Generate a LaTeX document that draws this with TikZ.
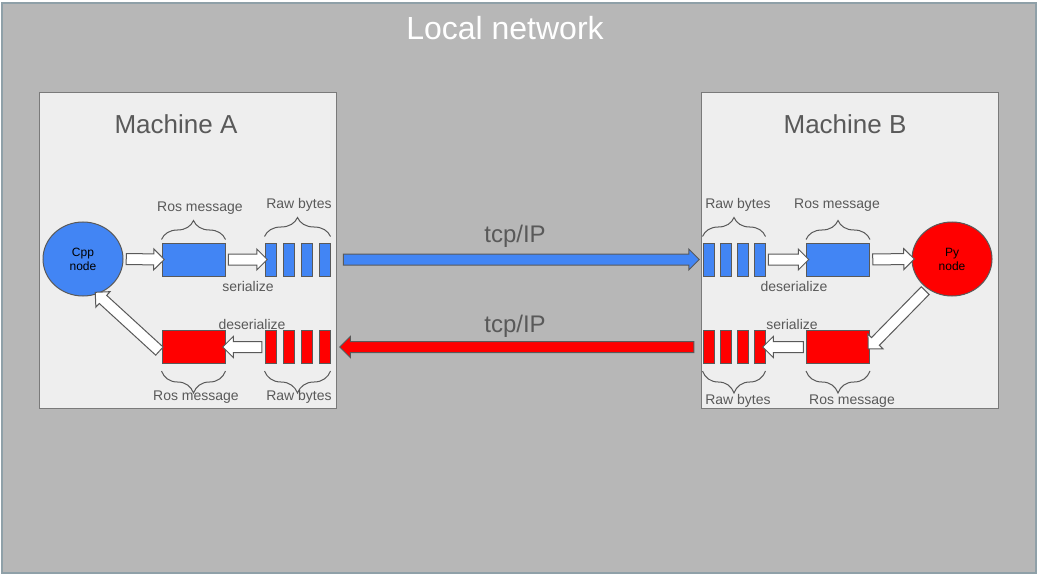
\documentclass[tikz,border=0pt]{standalone}
\usepackage{fontspec}
\setmainfont{Liberation Sans}
\usetikzlibrary{positioning,calc,shapes.arrows,shapes.geometric,decorations.pathreplacing}
\definecolor{netgray}{HTML}{B7B7B7}
\definecolor{boxgray}{HTML}{EEEEEE}
\definecolor{linegray}{HTML}{595959}
\definecolor{framegray}{HTML}{8FA0A8}
\definecolor{rosblue}{HTML}{4285F4}
\definecolor{rosred}{HTML}{FF0000}
\tikzset{
	machine/.style={draw=linegray!80, fill=boxgray, line width=1pt, minimum width=297pt, minimum height=315pt, inner sep=0pt},
	msg/.style={draw=linegray, line width=1pt, fill=#1, minimum width=63pt, minimum height=33pt, inner sep=0pt},
	byte/.style={draw=linegray, line width=1pt, fill=#1, minimum width=11pt, minimum height=33pt, inner sep=0pt},
	rosnode/.style={ellipse, draw=linegray, line width=1pt, fill=#1, minimum width=80pt, minimum height=74pt, inner sep=0pt, align=center, font=\fontsize{12}{14}\selectfont},
	lbl/.style={text=linegray, font=\fontsize{14}{16}\selectfont, inner sep=0pt},
	big/.style={text=linegray, font=\fontsize{26}{30}\selectfont, inner sep=0pt},
	fat/.style={single arrow, draw=linegray, line width=1pt, fill=#1, inner xsep=0pt, inner ysep=5pt, single arrow head extend=5pt, single arrow head indent=0pt},
	brace/.style={decorate, decoration={brace, amplitude=#1}, draw=linegray, line width=1pt}
}
% fat arrow between two points: name, from, to, fill
\newcommand{\fatarrow}[4]{%
	\path let \p1=#2, \p2=#3, \n1={atan2(\y2-\y1,\x2-\x1)}, \n2={veclen(\x2-\x1,\y2-\y1)} in
		node[fat=#4, minimum height=\n2, rotate=\n1] (#1) at ($(\p1)!0.5!(\p2)$) {};}

\begin{document}
\begin{tikzpicture}[x=1pt, y=-1pt]
	\useasboundingbox (0,0) rectangle (1040,577);
	\draw[framegray, fill=netgray, line width=1.5pt] (2,3) rectangle (1036,573);
	\node[text=white, font=\fontsize{32}{36}\selectfont, inner sep=0pt] (net) at (505,28) {Local network};

	% machines
	\node[machine] (machA) at (187.5,250.5) {};
	\node[machine] (machB) at (849.5,250.5) {};
	\node[big] (titleA) at (176,124) {Machine A};
	\node[big] (titleB) at (845,124) {Machine B};

	% ros nodes
	\node[rosnode=rosblue] (cpp) at (83,259) {Cpp\\node};
	\node[rosnode=rosred] (py) at (952,259) {Py\\node};

	% messages
	\node[msg=rosblue] (blueA) at (193.5,259.5) {};
	\node[msg=rosred] (redA) at (193.5,347) {};
	\node[msg=rosblue] (blueB) at (838,259.5) {};
	\node[msg=rosred] (redB) at (838,347) {};

	% raw bytes
	\foreach \i in {1,...,4} {
		\node[byte=rosblue] (bA\i) at (252.5+18*\i,259.5) {};
		\node[byte=rosred] (rA\i) at (252.5+18*\i,347) {};
		\node[byte=rosblue] (bB\i) at (691.5+17*\i,259.5) {};
		\node[byte=rosred] (rB\i) at (691.5+17*\i,347) {};
	}

	% braces
	\draw[brace=19pt] ([yshift=3pt]blueA.north west) -- ([yshift=3pt]blueA.north east);
	\draw[brace=19pt] ([yshift=6pt]bA1.north west) -- ([yshift=6pt]bA4.north east);
	\draw[brace=22pt] ([yshift=-7pt]redA.south east) -- ([yshift=-7pt]redA.south west);
	\draw[brace=22pt] ([yshift=-7pt]rA4.south east) -- ([yshift=-7pt]rA1.south west);
	\draw[brace=19pt] ([yshift=6pt]bB1.north west) -- ([yshift=6pt]bB4.north east);
	\draw[brace=19pt] ([yshift=3pt]blueB.north west) -- ([yshift=3pt]blueB.north east);
	\draw[brace=22pt] ([yshift=-7pt]rB4.south east) -- ([yshift=-7pt]rB1.south west);
	\draw[brace=22pt] ([yshift=-7pt]redB.south east) -- ([yshift=-7pt]redB.south west);

	% labels
	\node[lbl] (rosA1) at (200,208) {Ros message};
	\node[lbl] (rawA1) at (299,205) {Raw bytes};
	\node[lbl] (serA) at (248,286) {serialize};
	\node[lbl] (deserA) at (252,324) {deserialize};
	\node[lbl] (rosA2) at (196,397) {Ros message};
	\node[lbl] (rawA2) at (299,397) {Raw bytes};
	\node[lbl] (rawB1) at (738,205) {Raw bytes};
	\node[lbl] (rosB1) at (837,205) {Ros message};
	\node[lbl] (deserB) at (794,286) {deserialize};
	\node[lbl] (serB) at (792,324) {serialize};
	\node[lbl] (rawB2) at (738,401) {Raw bytes};
	\node[lbl] (rosB2) at (852,401) {Ros message};
	\node[lbl, font=\fontsize{24}{28}\selectfont] (tcp1) at (515,236) {tcp/IP};
	\node[lbl, font=\fontsize{24}{28}\selectfont] (tcp2) at (515,326) {tcp/IP};

	% arrows machine A
	\fatarrow{a1}{(cpp.east)}{(blueA.west)}{white}
	\fatarrow{a2}{(blueA.east)}{(bA1.west)}{white}
	\fatarrow{a3}{(rA1.west)}{(redA.east)}{white}
	\fatarrow{a4}{([yshift=-6pt]redA.west)}{(cpp.-68)}{white}
	% arrows machine B
	\fatarrow{b1}{(bB4.east)}{(blueB.west)}{white}
	\fatarrow{b2}{(blueB.east)}{(py.west)}{white}
	\fatarrow{b3}{(py.-130)}{(redB.east)}{white}
	\fatarrow{b4}{(redB.west)}{(rB4.east)}{white}
	% network
	\fatarrow{tcpAB}{([xshift=10pt]bA4.east)}{([xshift=-6pt]bB1.west)}{rosblue}
	\fatarrow{tcpBA}{([xshift=-6pt]rB1.west)}{([xshift=12pt]rA4.east)}{rosred}
\end{tikzpicture}
\end{document}
